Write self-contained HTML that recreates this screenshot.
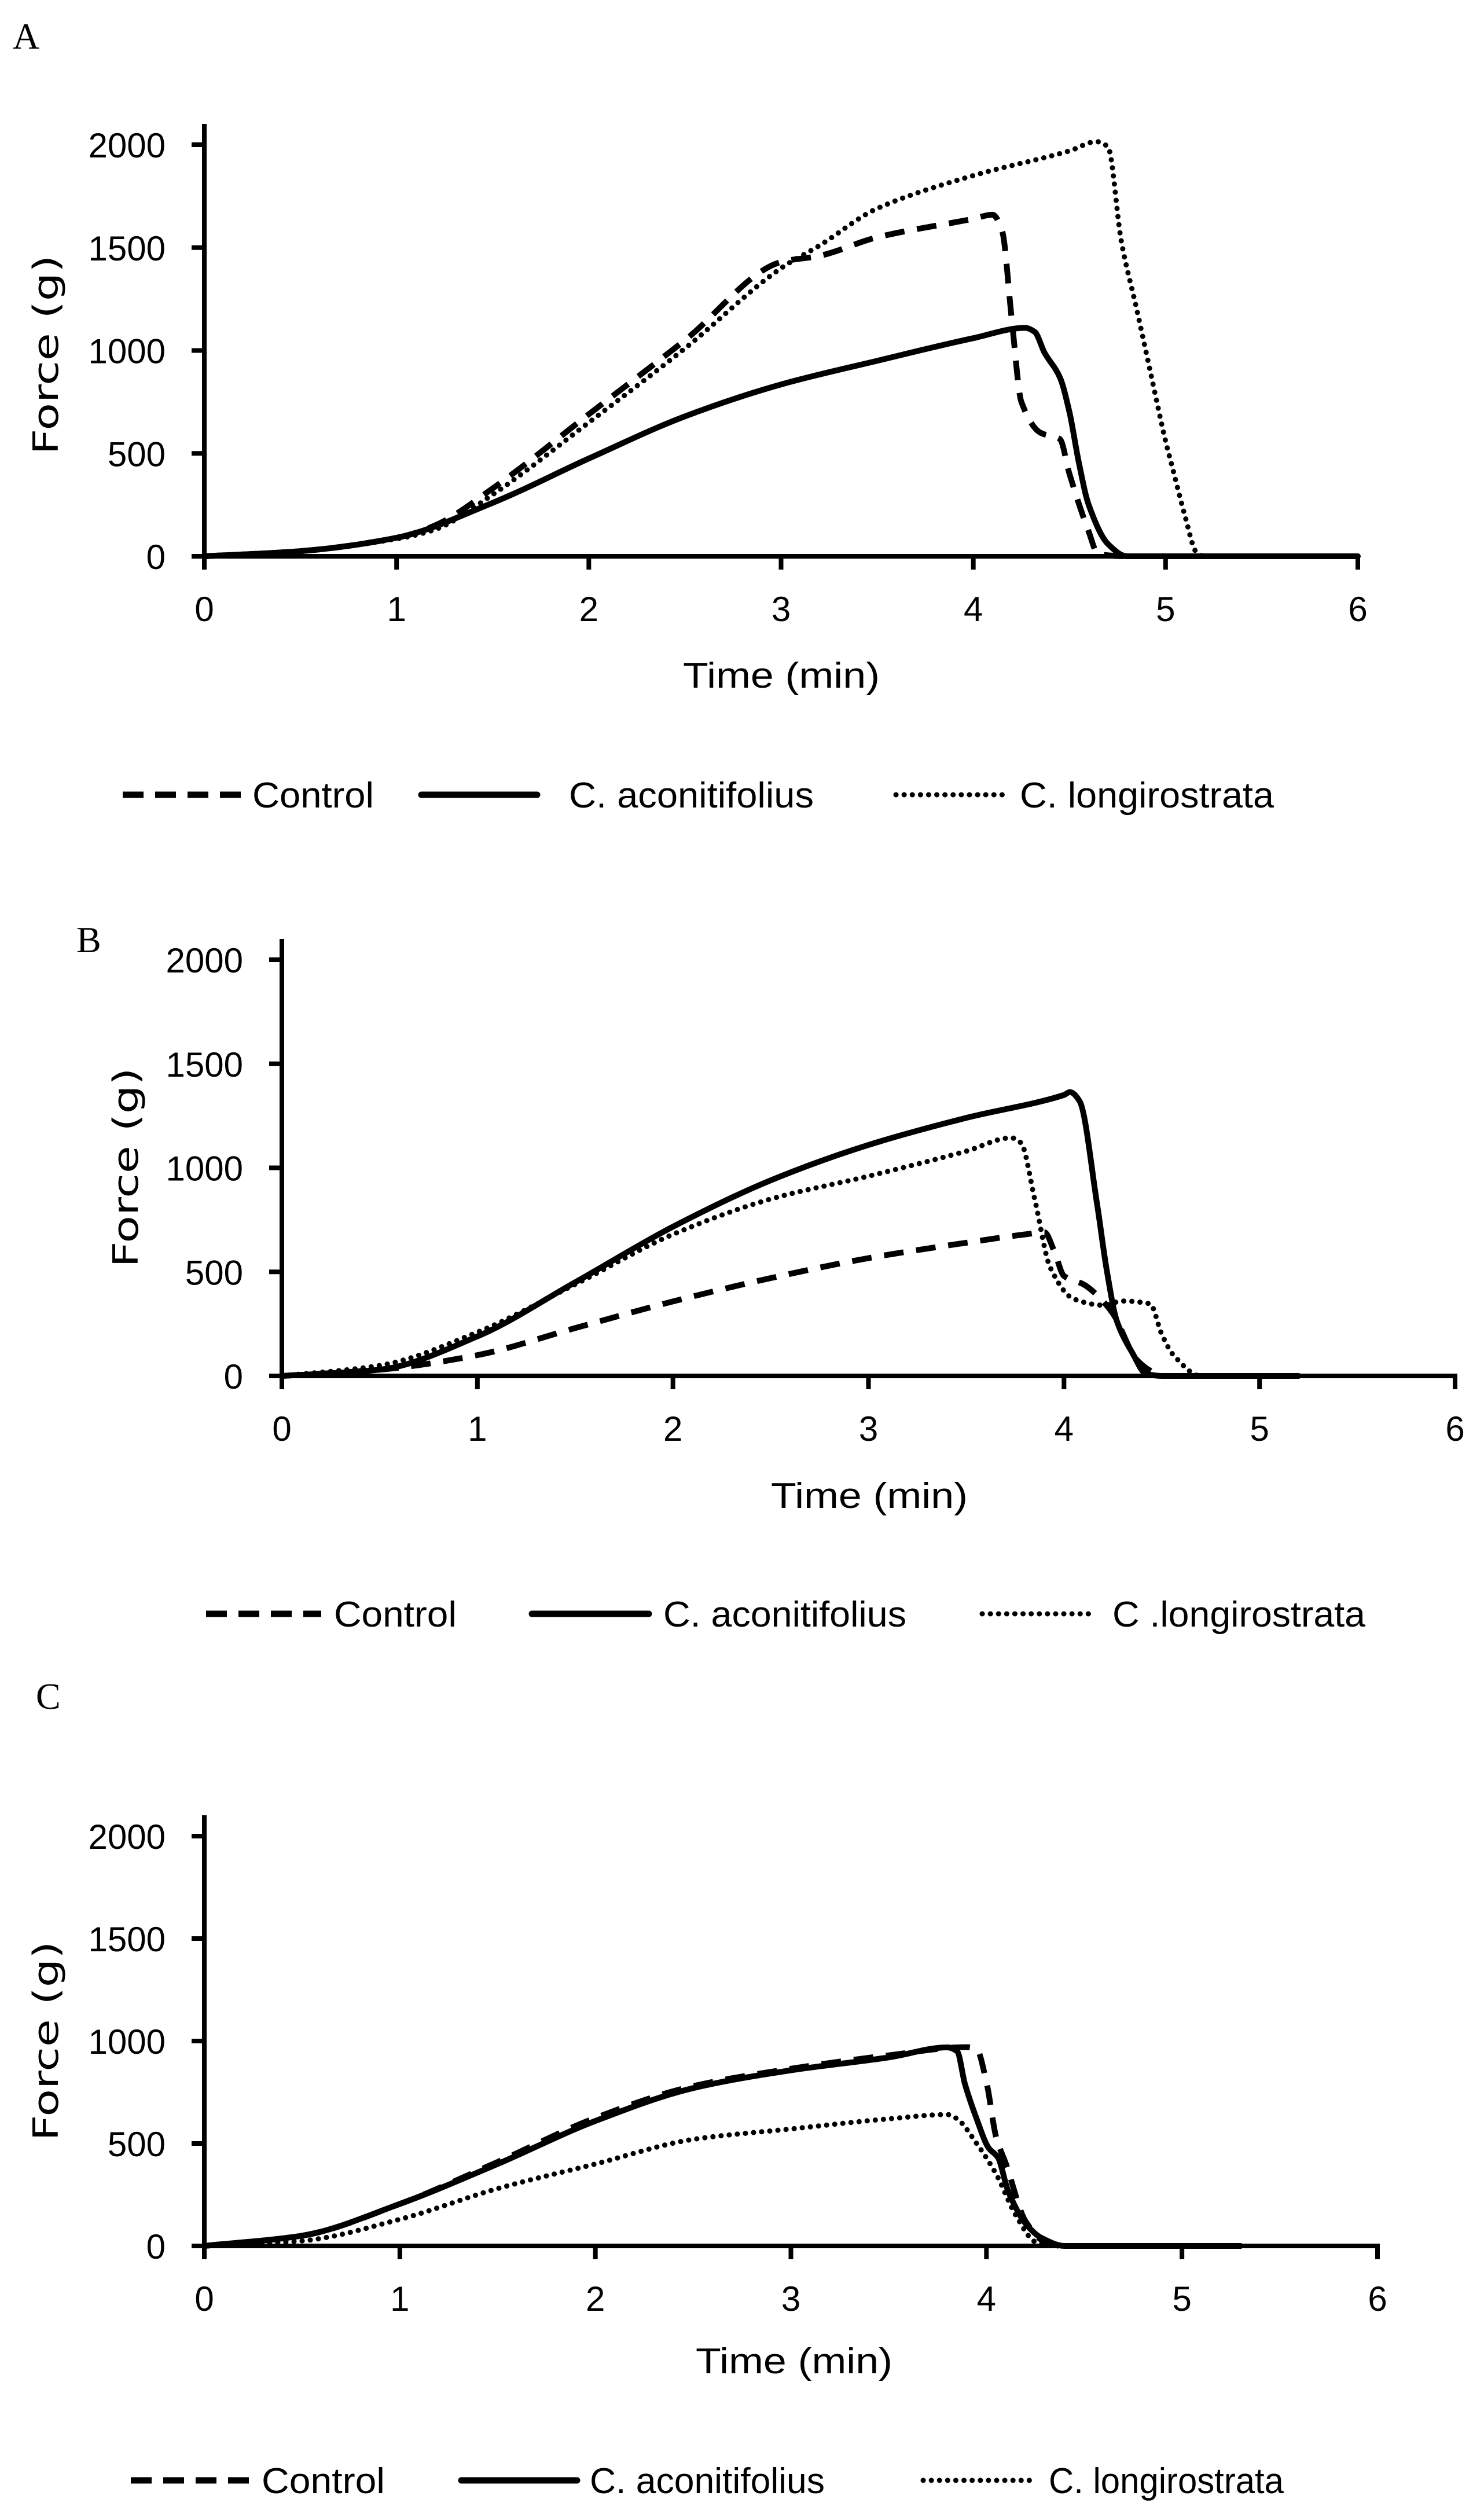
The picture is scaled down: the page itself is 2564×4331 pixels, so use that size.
<!DOCTYPE html>
<html><head><meta charset="utf-8"><style>
html,body{margin:0;padding:0;background:#fff;}
svg{display:block;}
text{font-family:"Liberation Sans",sans-serif;fill:#000;}
</style></head>
<body>
<svg id="fig" width="2564" height="4331" viewBox="0 0 2564 4331" xmlns="http://www.w3.org/2000/svg">
<rect width="2564" height="4331" fill="#fff"/>
</svg>
<script>
// ---- data ----
const xTicks = [0,1,2,3,4,5,6];
const yTicks = [0,500,1000,1500,2000];
const seriesNames = ["Control","C. aconitifolius","C. longirostrata"];
const seriesNamesB = ["Control","C. aconitifolius","C .longirostrata"];

const aControlT = [0,0.5,1,1.2,1.5,2,2.5,3,3.2,3.5,4,4.1,4.15,4.2,4.25,4.35,4.45,4.5,4.6,4.65,4.8,6];
const aControlF = [0,25,90,150,330,690,1050,1430,1460,1550,1640,1660,1580,1150,750,600,570,400,120,10,0,0];
const aAconT = [0,0.5,1,1.5,2,2.5,3,3.5,4,4.27,4.32,4.37,4.45,4.5,4.55,4.6,4.7,4.8,6];
const aAconF = [0,25,90,260,475,680,835,950,1060,1110,1090,990,870,700,450,250,60,0,0];
const aLongT = [0,0.5,1,1.2,1.5,2,2.5,3,3.2,3.5,4,4.5,4.64,4.7,4.77,4.85,4.92,5,5.04,5.1,5.16,5.2,6];
const aLongF = [0,25,85,130,300,650,1010,1400,1510,1690,1850,1970,2015,1990,1530,1200,900,560,415,200,20,0,0];

const bControlT = [0,0.5,1,1.5,2,2.5,3,3.5,3.8,3.9,3.95,4,4.1,4.15,4.25,4.37,4.45,4.5,5.2];
const bControlF = [0,30,100,230,358,470,566,640,680,690,600,480,440,405,300,80,20,0,0];
const bAconT = [0,0.5,1,1.5,2,2.5,3,3.5,4,4.03,4.08,4.17,4.22,4.27,4.35,4.42,4.5,5.2];
const bAconF = [0,30,190,450,717,940,1110,1240,1350,1364,1320,820,500,265,110,10,0,0];
const bLongT = [0,0.5,1,1.5,2,2.5,3,3.5,3.73,3.78,3.85,3.93,4.05,4.2,4.3,4.44,4.5,4.56,4.7,5.2];
const bLongF = [0,50,210,440,680,850,960,1080,1144,1120,850,520,370,340,360,347,200,100,0,0];

const cControlT = [0,0.5,1,1.5,2,2.5,3,3.5,3.9,3.95,4.0,4.05,4.1,4.2,4.3,4.4,5.3];
const cControlF = [0,50,205,410,625,780,865,930,970,960,800,530,400,120,20,0,0];
const cAconT = [0,0.5,1,1.5,2,2.5,3,3.5,3.8,3.85,3.89,3.95,4.01,4.06,4.11,4.2,4.28,4.4,5.3];
const cAconF = [0,50,205,400,610,770,857,920,969,950,790,620,480,430,270,110,40,0,0];
const cLongT = [0,0.5,1,1.5,2,2.5,3,3.5,3.8,3.85,3.95,4.05,4.15,4.25,4.35,5.3];
const cLongF = [0,25,130,280,400,520,571,620,641,620,500,350,150,20,0,0];

const NS = "http://www.w3.org/2000/svg";
const svg = document.getElementById("fig");
function mk(tag, attrs, parent){
  const e = document.createElementNS(NS, tag);
  for (const k in attrs) e.setAttribute(k, attrs[k]);
  (parent||svg).appendChild(e);
  return e;
}
const styles = [
  {dash:"34 22", cap:"butt", w:10},
  {dash:"", cap:"round", w:10},
  {dash:"0.1 14", cap:"round", w:9}
];

// monotone cubic path through pixel points
function smoothPath(px, py){
  const n = px.length;
  const d = [], m = [];
  for (let i=0;i<n-1;i++) d.push((py[i+1]-py[i])/(px[i+1]-px[i]));
  m[0]=d[0]; m[n-1]=d[n-2];
  for (let i=1;i<n-1;i++){
    if (d[i-1]*d[i] <= 0) m[i]=0;
    else m[i] = 2/(1/d[i-1]+1/d[i]);
  }
  let s = "M" + px[0].toFixed(1) + "," + py[0].toFixed(1);
  for (let i=0;i<n-1;i++){
    const h = px[i+1]-px[i];
    s += " C" + (px[i]+h/3).toFixed(1) + "," + (py[i]+m[i]*h/3).toFixed(1) + " " +
         (px[i+1]-h/3).toFixed(1) + "," + (py[i+1]-m[i+1]*h/3).toFixed(1) + " " +
         px[i+1].toFixed(1) + "," + py[i+1].toFixed(1);
  }
  return s;
}

function panel(id, letter, lx, ly, g, series, names, legY, leg, titleX, titleY, yTitleX, yTitleY){
  const grp = mk("g", {});
  
  
  const xs = t => g.x0 + (g.x6 - g.x0) * t / 6;
  const ys = f => g.y0 - (g.y0 - g.y2000) * f / 2000;
  const lt = mk("text", {x:lx, y:ly, "font-size":64, style:'font-family:"Liberation Serif",serif'}, grp);
  lt.textContent = letter;
  
  
  series.forEach((s, i) => {
    const pd = smoothPath(s[0].map(xs), s[1].map(ys));
    const pl = mk("path", {d:pd, fill:"none", stroke:"#000", "stroke-width":styles[i].w,
      "stroke-linejoin":"round", "stroke-linecap":styles[i].cap}, grp);
    if (styles[i].dash) pl.setAttribute("stroke-dasharray", styles[i].dash);
    
    
  });
  const ya = mk("line", {x1:g.x0, y1:g.y2000-36, x2:g.x0, y2:g.y0+23, stroke:"#000", "stroke-width":8}, grp);
  
  
  const xa = mk("line", {x1:g.x0-22, y1:g.y0, x2:g.x6+4, y2:g.y0, stroke:"#000", "stroke-width":8}, grp);
  
  
  yTicks.forEach(v => {
    mk("line", {x1:g.x0-22, y1:ys(v), x2:g.x0, y2:ys(v), stroke:"#000", "stroke-width":8}, grp);
    const t = mk("text", {x:g.x0-67, y:ys(v)+22, "font-size":60, "text-anchor":"end"}, grp);
    t.textContent = v;
    
    
  });
  xTicks.forEach(v => {
    mk("line", {x1:xs(v), y1:g.y0, x2:xs(v), y2:g.y0+23, stroke:"#000", "stroke-width":8}, grp);
    const t = mk("text", {x:xs(v), y:g.y0+112, "font-size":60, "text-anchor":"middle"}, grp);
    t.textContent = v;
    
    
  });
  const xt = mk("text", {x:titleX, y:titleY+22, "font-size":62, "text-anchor":"middle", textLength:340, lengthAdjust:"spacingAndGlyphs"}, grp);
  xt.textContent = "Time (min)";
  
  
  const yt = mk("text", {x:0, y:0, "font-size":60, "text-anchor":"middle", textLength:345, lengthAdjust:"spacingAndGlyphs",
     transform:"translate(" + (yTitleX+21) + "," + yTitleY + ") rotate(-90)", style:'font-family:"DejaVu Sans",sans-serif'}, grp);
  yt.textContent = "Force (g)";
  
  
  leg.forEach((e, i) => {
    const ln = mk("line", {x1:e[0], y1:legY, x2:e[1], y2:legY, stroke:"#000", "stroke-width":i===2?9:11, "stroke-linecap":styles[i].cap}, grp);
    if (styles[i].dash) ln.setAttribute("stroke-dasharray", i===0 ? "36 20" : "0.1 14");
    
    
    const tx = mk("text", {x:e[2], y:legY+22, "font-size":62, textLength:e[3]-e[2], lengthAdjust:"spacingAndGlyphs"}, grp);
    tx.textContent = names[i];
    
    
  });
}

panel("a", "A", 22, 84, {x0:353, x6:2346, y0:961, y2000:250},
  [[aControlT,aControlF],[aAconT,aAconF],[aLongT,aLongF]], seriesNames, 1373,
  [[212,417,436,646],[728,928,983,1406],[1548,1743,1762,2201]], 1350, 1166, 79, 613);
panel("b", "B", 132, 1645, {x0:487, x6:2514, y0:2377, y2000:1658},
  [[bControlT,bControlF],[bAconT,bAconF],[bLongT,bLongF]], seriesNamesB, 2788,
  [[356,555,577,789],[919,1121,1146,1566],[1697,1889,1922,2359]], 1502, 2583, 217, 2017);
panel("c", "C", 62, 2952, {x0:353, x6:2380, y0:3880, y2000:3172},
  [[cControlT,cControlF],[cAconT,cAconF],[cLongT,cLongF]], seriesNames, 4285,
  [[226,430,452,665],[797,997,1019,1425],[1595,1790,1812,2218]], 1372, 4078, 79, 3526);
</script>
</body></html>
